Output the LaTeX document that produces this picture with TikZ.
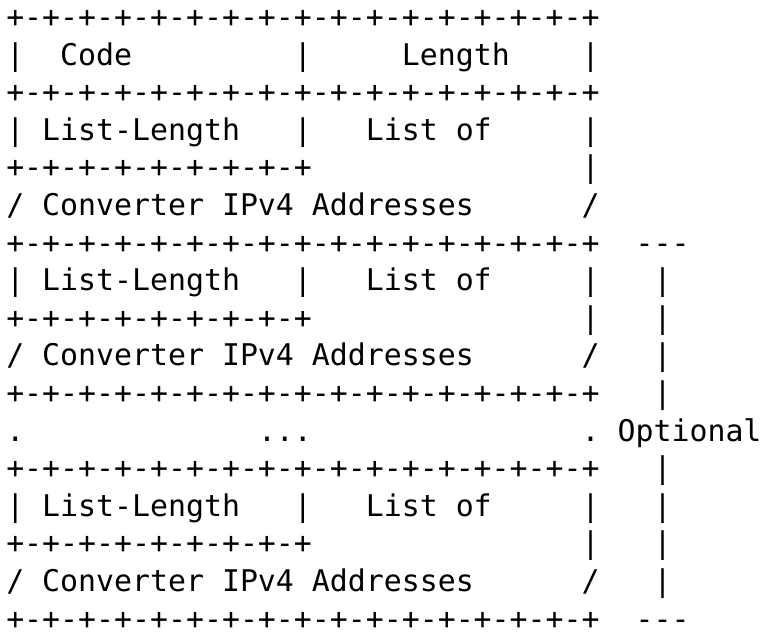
\documentclass[tikz,border=0pt]{standalone}
\usepackage{fontspec}
\setmonofont{DejaVu Sans Mono}
\usepackage{tikz}
\frenchspacing
\tikzset{asc/.style={anchor=base west, inner sep=0pt, font=\fontsize{22.4pt}{28pt}\selectfont\ttfamily}}

\begin{document}
\begin{tikzpicture}[x=0.75pt,y=-0.75pt]
\useasboundingbox (0,0) rectangle (766,634);
\node[asc] (top)   at (6,27.5)  {+-+-+-+-+-+-+-+-+-+-+-+-+-+-+-+-+};
\node[asc] (code)  at (6,65.1)  {|~~Code~~~~~~~~~|~~~~~Length~~~~|};
\node[asc] (sepa)  at (6,102.7) {+-+-+-+-+-+-+-+-+-+-+-+-+-+-+-+-+};
\node[asc] (lena)  at (6,140.3) {|~List-Length~~~|~~~List~of~~~~~|};
\node[asc] (halfa) at (6,177.9) {+-+-+-+-+-+-+-+-+~~~~~~~~~~~~~~~|};
\node[asc] (adra)  at (6,215.5) {/~Converter~IPv4~Addresses~~~~~~/};

\node[asc] (sepb)  at (6,253.1) {+-+-+-+-+-+-+-+-+-+-+-+-+-+-+-+-+~~---};
\node[asc] (lenb)  at (6,290.7) {|~List-Length~~~|~~~List~of~~~~~|~~~|};
\node[asc] (halfb) at (6,328.3) {+-+-+-+-+-+-+-+-+~~~~~~~~~~~~~~~|~~~|};
\node[asc] (adrb)  at (6,365.9) {/~Converter~IPv4~Addresses~~~~~~/~~~|};
\node[asc] (sepc)  at (6,403.5) {+-+-+-+-+-+-+-+-+-+-+-+-+-+-+-+-+~~~|};

\node[asc] (dots)  at (6,441.1) {.~~~~~~~~~~~~~...~~~~~~~~~~~~~~~.~Optional};

\node[asc] (sepd)  at (6,478.7) {+-+-+-+-+-+-+-+-+-+-+-+-+-+-+-+-+~~~|};
\node[asc] (lenc)  at (6,516.3) {|~List-Length~~~|~~~List~of~~~~~|~~~|};
\node[asc] (halfc) at (6,553.9) {+-+-+-+-+-+-+-+-+~~~~~~~~~~~~~~~|~~~|};
\node[asc] (adrc)  at (6,591.5) {/~Converter~IPv4~Addresses~~~~~~/~~~|};
\node[asc] (bot)   at (6,629.1) {+-+-+-+-+-+-+-+-+-+-+-+-+-+-+-+-+~~---};
\end{tikzpicture}
\end{document}
